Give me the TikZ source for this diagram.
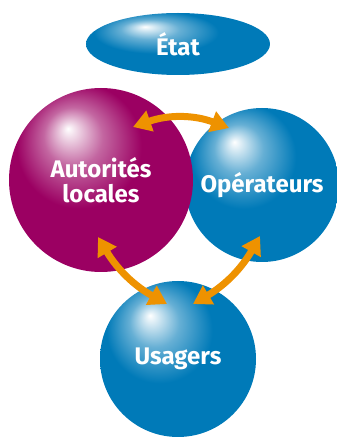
\documentclass[tikz,border=0pt]{standalone}
\usepackage{fontspec}
\setmainfont{Fira Sans}
\usetikzlibrary{positioning, arrows.meta, calc, shapes.geometric}

\definecolor{magball}{RGB}{155,0,98}
\definecolor{blueball}{RGB}{0,122,184}
\definecolor{arrorange}{RGB}{238,146,0}

% glossy spheres, light spot up left
\pgfdeclareradialshading{spheremag}{\pgfqpoint{-9bp}{14bp}}{color(0bp)=(white); color(2bp)=(white!85!magball); color(8bp)=(white!40!magball); color(17bp)=(magball); color(32bp)=(magball); color(43bp)=(magball!75!black); color(50bp)=(magball!75!black)}
\pgfdeclareradialshading{sphereblue}{\pgfqpoint{-9bp}{14bp}}{color(0bp)=(white); color(2bp)=(white!85!blueball); color(8bp)=(white!40!blueball); color(17bp)=(blueball); color(32bp)=(blueball); color(43bp)=(blueball!75!black); color(50bp)=(blueball!75!black)}

\begin{document}
\begin{tikzpicture}[x=1pt, y=1pt, ball/.style = {circle, inner sep=0pt, text=white, align=center, font=\fontsize{24}{25}\selectfont\bfseries}, arr/.style = {arrorange, line width=7pt, {Triangle[length=18pt, width=21pt]}-{Triangle[length=18pt, width=21pt]}}]
        \useasboundingbox (0,0) rectangle (337,437);
        \node[ball, ellipse, shading=sphereblue, minimum width=184pt, minimum height=62pt] (1) at (178,393) {État};
        \node[ball, shading=sphereblue, minimum size=154pt] (3) at (262,252) {Opérateurs};
        \node[ball, shading=spheremag, minimum size=184pt] (2) at (101,257) {Autorités\\locales};
        \node[ball, shading=sphereblue, minimum size=156pt] (4) at (178,78) {Usagers};
        \draw[arr] ($(2)+(32,53)$) to[bend left=20] ($(3)+(-33,57)$);
        \draw[arr] ($(2)+(-3,-57)$) to[bend right=15] ($(4)+(-11,55)$);
        \draw[arr] ($(3)+(-2,-51)$) to[bend left=15] ($(4)+(15,55)$);
    \end{tikzpicture}
\end{document}
